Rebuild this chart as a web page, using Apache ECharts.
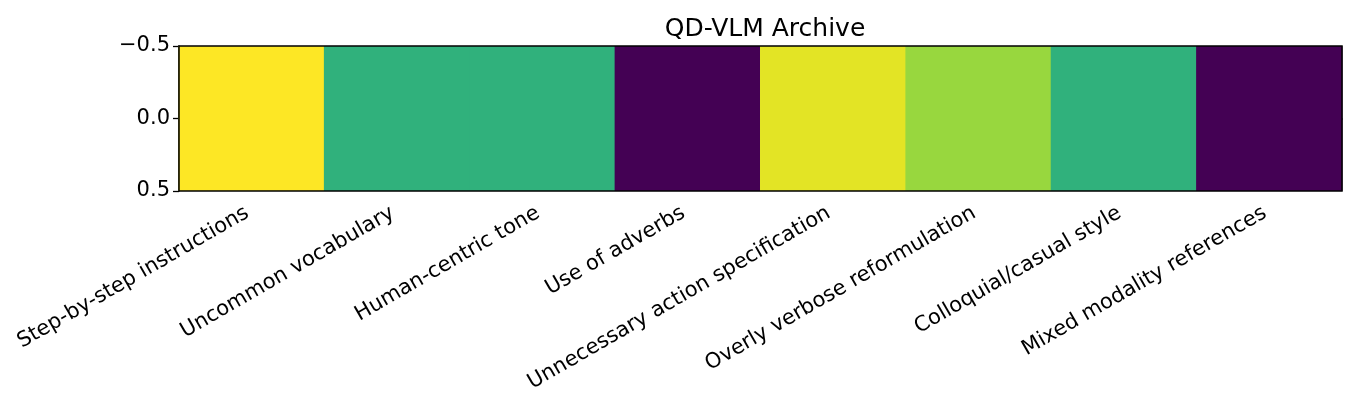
<!DOCTYPE html>
<html>
<head>
<meta charset="utf-8">
<script src="https://cdn.jsdelivr.net/npm/echarts@6/dist/echarts.min.js"></script>
<style>html,body{margin:0;padding:0;background:#fff;}#c{width:1357px;height:411px;}</style>
</head>
<body>
<div id="c"></div>
<script>
const categories = ["Step-by-step instructions","Uncommon vocabulary","Human-centric tone","Use of adverbs","Unnecessary action specification","Overly verbose reformulation","Colloquial/casual style","Mixed modality references"];
const values = [1.0, 0.64, 0.64, 0.0, 0.96, 0.845, 0.64, 0.0];
const yTicks = [-0.5, 0.0, 0.5];
const viridis = ["#440154","#482475","#414487","#355f8d","#2a788e","#21918c","#22a884","#44bf70","#7ad151","#bddf26","#fde725"];

const chart = echarts.init(document.getElementById('c'), null, {renderer:'canvas'});
const font = 'DejaVu Sans';
chart.setOption({
  animation:false,
  title:{text:'QD-VLM Archive', left:760, textAlign:'center', top:12,
    textStyle:{fontFamily:font, fontSize:25, fontWeight:'normal', color:'#000'}},
  grid:{left:179, right:15, top:46, bottom:220, show:true, borderColor:'#000', borderWidth:1.5, backgroundColor:'transparent', z:5},
  visualMap:{show:false, type:'continuous', min:0, max:1, dimension:1, seriesIndex:0, inRange:{color:viridis}},
  xAxis:{type:'category', data:categories, boundaryGap:true,
    axisLine:{show:true, lineStyle:{color:'#000', width:1.5}},
    axisTick:{show:true, alignWithLabel:true, length:6, lineStyle:{color:'#000', width:1.3}},
    axisLabel:{rotate:30, interval:0, fontFamily:font, fontSize:21, color:'#000', margin:18, padding:[0,5,0,0]},
    splitLine:{show:false}},
  yAxis:{type:'value', inverse:true, min:-0.5, max:0.5, interval:0.5,
    axisLine:{show:true, lineStyle:{color:'#000', width:1.5}},
    axisTick:{show:true, length:6, lineStyle:{color:'#000', width:1.3}},
    axisLabel:{fontFamily:font, fontSize:21, color:'#000', margin:9,
      formatter:v=>{const s=v.toFixed(1); return v<0 ? '\u2212'+s.slice(1) : s;}},
    splitLine:{show:false}},
  series:[{
    type:'custom',
    data: values.map((v,i)=>[i, v]),
    encode:{x:0},
    renderItem:(params, api)=>{
      const i = api.value(0);
      const p0 = api.coord([i, yTicks[0]]);
      const p1 = api.coord([i, yTicks[2]]);
      const w = api.size([1,0])[0];
      return {type:'rect', shape:{x:p0[0]-w/2-0.5, y:Math.min(p0[1],p1[1]), width:w+1, height:Math.abs(p1[1]-p0[1])},
        style:{fill:api.visual('color')}};
    },
    z:1
  }]
});
</script>
</body>
</html>
